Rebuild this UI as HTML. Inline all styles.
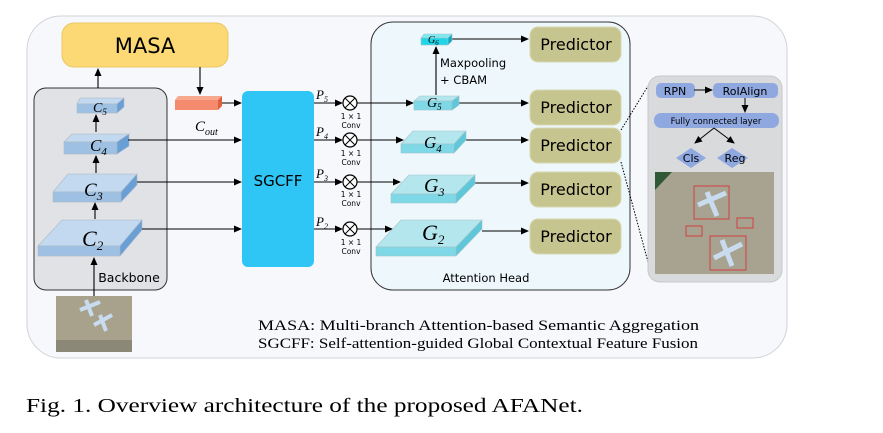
<!DOCTYPE html>
<html><head><meta charset="utf-8"><style>
html,body{margin:0;padding:0;background:#fff;width:883px;height:433px;overflow:hidden}
svg{display:block}
.s{font-family:"DejaVu Sans","Liberation Sans",sans-serif}
.r{font-family:"Liberation Serif",serif}
</style></head><body>
<svg width="883" height="433" viewBox="0 0 883 433" xmlns="http://www.w3.org/2000/svg">
<defs>
<marker id="a" markerWidth="8" markerHeight="8" refX="7" refY="4" orient="auto" markerUnits="userSpaceOnUse"><path d="M0,0.5 L8,4 L0,7.5z" fill="#000"/></marker>
</defs>
<rect x="27" y="16" width="760" height="342" rx="34" fill="#f6f8fc" stroke="#cfd3d8" stroke-width="1"/>
<rect x="62" y="23" width="166" height="44" rx="12" fill="#fcd975" stroke="#e8c860"/>
<text x="145" y="53" class="s" font-size="21" text-anchor="middle">MASA</text>
<rect x="34" y="88" width="133" height="202" rx="12" fill="#e1e2e5" stroke="#333" stroke-width="1"/>
<text x="129" y="282" class="s" font-size="12.5" text-anchor="middle">Backbone</text>
<g stroke="#aab8c8" stroke-width="0.6">
<polygon points="80,98 124,98 117,104 77,104" fill="#c3d9ef"/><rect x="77" y="104" width="40" height="9" fill="#9dc0e3"/><polygon points="117,104 124,98 124,107 117,113" fill="#6a9fd6"/>
<polygon points="72,134 129,134 117,142 64,142" fill="#c3d9ef"/><rect x="64" y="142" width="53" height="12" fill="#9dc0e3"/><polygon points="117,142 129,134 129,146 117,154" fill="#6a9fd6"/>
<polygon points="68,174 137,174 121,192 53,192" fill="#c3d9ef"/><rect x="53" y="192" width="68" height="10" fill="#9dc0e3"/><polygon points="121,192 137,174 137,185 121,202" fill="#6a9fd6"/>
<polygon points="62,220 142,220 120,246 38,246" fill="#c3d9ef"/><rect x="38" y="246" width="82" height="10" fill="#9dc0e3"/><polygon points="120,246 142,220 142,230 120,256" fill="#6a9fd6"/>
</g>
<g class="r" font-style="italic">
<text x="93" y="112" font-size="14">C<tspan font-size="9" dy="3">5</tspan></text>
<text x="90" y="151" font-size="17">C<tspan font-size="11" dy="4">4</tspan></text>
<text x="84" y="196" font-size="19">C<tspan font-size="12" dy="4">3</tspan></text>
<text x="82" y="246" font-size="22">C<tspan font-size="13" dy="4">2</tspan></text>
</g>
<g stroke="#000" stroke-width="1.1" fill="none" marker-end="url(#a)">
<line x1="98" y1="88" x2="98" y2="69"/>
<line x1="96" y1="132" x2="96" y2="115"/>
<line x1="96" y1="173" x2="96" y2="156"/>
<line x1="95" y1="219" x2="95" y2="203"/>
<line x1="94" y1="296" x2="94" y2="258"/>
<line x1="200" y1="67" x2="200" y2="94"/>
<line x1="222" y1="103" x2="241" y2="103"/>
<line x1="128" y1="140" x2="241" y2="140"/>
<line x1="137" y1="182" x2="241" y2="182"/>
<line x1="142" y1="229" x2="241" y2="229"/>
</g>
<rect x="56" y="296" width="76" height="56" fill="#a8a28c"/>
<rect x="56" y="340" width="76" height="12" fill="#8c8878"/>
<path d="M80,310 l20,-8 M86,300 l6,16 M94,325 l18,-10 M100,315 l6,16" stroke="#c9dcef" stroke-width="4"/>
<polygon points="178,96 222,96 218,100 175,100" fill="#f8a88e"/>
<rect x="175" y="100" width="43" height="10" fill="#f48a6e"/><polygon points="218,100 222,96 222,106 218,110" fill="#e0603e"/>
<text x="195" y="131" class="r" font-style="italic" font-size="15">C<tspan font-size="10" dy="4">out</tspan></text>
<rect x="242" y="91" width="72" height="176" rx="6" fill="#2fc6f5"/>
<text x="278" y="186" class="s" font-size="15" text-anchor="middle">SGCFF</text>
<rect x="371" y="22" width="259" height="268" rx="22" fill="#eef8fc" stroke="#333" stroke-width="1"/>
<text x="486" y="282" class="s" font-size="11.5" text-anchor="middle">Attention Head</text>
<g class="r" font-style="italic" font-size="13">
<text x="316" y="99">P<tspan font-size="8" dy="3">5</tspan></text>
<text x="316" y="136">P<tspan font-size="8" dy="3">4</tspan></text>
<text x="316" y="178">P<tspan font-size="8" dy="3">3</tspan></text>
<text x="316" y="226">P<tspan font-size="8" dy="3">2</tspan></text>
</g>
<g stroke="#000" stroke-width="1.1" fill="none">
<line x1="314" y1="103" x2="342" y2="103" marker-end="url(#a)"/>
<line x1="314" y1="140" x2="342" y2="140" marker-end="url(#a)"/>
<line x1="314" y1="182" x2="342" y2="182" marker-end="url(#a)"/>
<line x1="314" y1="229" x2="342" y2="229" marker-end="url(#a)"/>
<line x1="357" y1="103" x2="413" y2="103" marker-end="url(#a)"/>
<line x1="357" y1="140" x2="403" y2="140" marker-end="url(#a)"/>
<line x1="357" y1="182" x2="400" y2="182" marker-end="url(#a)"/>
<line x1="357" y1="229" x2="392" y2="229" marker-end="url(#a)"/>
<line x1="436" y1="95" x2="436" y2="47" marker-end="url(#a)"/>
<line x1="452" y1="39" x2="528" y2="39" marker-end="url(#a)"/>
<line x1="456" y1="103" x2="528" y2="103" marker-end="url(#a)"/>
<line x1="465" y1="140" x2="528" y2="140" marker-end="url(#a)"/>
<line x1="475" y1="183" x2="528" y2="183" marker-end="url(#a)"/>
<line x1="482" y1="231" x2="528" y2="231" marker-end="url(#a)"/>
</g>
<g stroke="#000" stroke-width="1.2" fill="#fff">
<circle cx="350" cy="103" r="7"/><circle cx="350" cy="140" r="7"/><circle cx="350" cy="182" r="7"/><circle cx="350" cy="229" r="7"/>
</g>
<g stroke="#000" stroke-width="1">
<path d="M345,98 l10,10 M355,98 l-10,10"/><path d="M345,135 l10,10 M355,135 l-10,10"/><path d="M345,177 l10,10 M355,177 l-10,10"/><path d="M345,224 l10,10 M355,224 l-10,10"/>
</g>
<g class="s" font-size="7.5" text-anchor="middle">
<text x="351" y="119">1 × 1</text><text x="351" y="128">Conv</text>
<text x="351" y="156">1 × 1</text><text x="351" y="165">Conv</text>
<text x="351" y="197">1 × 1</text><text x="351" y="206">Conv</text>
<text x="351" y="245">1 × 1</text><text x="351" y="254">Conv</text>
</g>
<text x="440" y="67" class="s" font-size="11.5">Maxpooling</text>
<text x="440" y="84" class="s" font-size="11.5">+ CBAM</text>
<g stroke="#9fc4cc" stroke-width="0.6">
<polygon points="424,34 452,34 448,38 421,38" fill="#7fe8f0"/><rect x="421" y="38" width="27" height="7" fill="#1ed6e8"/><polygon points="448,38 452,34 452,41 448,45" fill="#10a8c0"/>
<polygon points="420,96 459,96 452,101 414,101" fill="#b4e6ee"/><rect x="414" y="101" width="38" height="9" fill="#7fd8e6"/><polygon points="452,101 459,96 459,105 452,110" fill="#5ec7da"/>
<polygon points="413,131 466,131 454,144 401,144" fill="#b4e6ee"/><rect x="401" y="144" width="53" height="9" fill="#7fd8e6"/><polygon points="454,144 466,131 466,140 454,153" fill="#5ec7da"/>
<polygon points="409,175 475,175 456,194 391,194" fill="#b4e6ee"/><rect x="391" y="194" width="65" height="9" fill="#7fd8e6"/><polygon points="456,194 475,175 475,184 456,203" fill="#5ec7da"/>
<polygon points="401,220 482,220 456,247 376,247" fill="#b4e6ee"/><rect x="376" y="247" width="80" height="9" fill="#7fd8e6"/><polygon points="456,247 482,220 482,229 456,256" fill="#5ec7da"/>
</g>
<g class="r" font-style="italic">
<text x="428" y="43" font-size="10">G<tspan font-size="7" dy="2">6</tspan></text>
<text x="427" y="107" font-size="14">G<tspan font-size="9" dy="3">5</tspan></text>
<text x="424" y="148" font-size="17">G<tspan font-size="11" dy="4">4</tspan></text>
<text x="424" y="192" font-size="20">G<tspan font-size="12" dy="4">3</tspan></text>
<text x="422" y="240" font-size="22">G<tspan font-size="13" dy="4">2</tspan></text>
</g>
<g fill="#c6c590" stroke="#d8d8b0">
<rect x="530" y="27" width="91" height="35" rx="8"/>
<rect x="530" y="90" width="91" height="35" rx="8"/>
<rect x="530" y="128" width="91" height="35" rx="8"/>
<rect x="530" y="172" width="91" height="35" rx="8"/>
<rect x="530" y="219" width="91" height="35" rx="8"/>
</g>
<g class="s" font-size="16" text-anchor="middle">
<text x="576" y="50">Predictor</text>
<text x="576" y="113">Predictor</text>
<text x="576" y="151">Predictor</text>
<text x="576" y="195">Predictor</text>
<text x="576" y="242">Predictor</text>
</g>
<g stroke="#000" stroke-width="1" stroke-dasharray="1.5,1.5" fill="none">
<line x1="621" y1="130" x2="648" y2="86"/>
<line x1="621" y1="162" x2="648" y2="262"/>
</g>
<rect x="648" y="76" width="134" height="206" rx="12" fill="#d9dadc" stroke="#c8c8c8"/>
<g fill="#8fa8e0">
<rect x="656" y="83" width="39" height="15" rx="5"/>
<rect x="713" y="83" width="65" height="15" rx="5"/>
<rect x="654" y="113" width="125" height="15" rx="7"/>
<polygon points="676,158 691,148 706,158 691,168"/>
<polygon points="717,158 732,148 748,158 732,168"/>
</g>
<g class="s" text-anchor="middle">
<text x="675" y="95" font-size="11">RPN</text>
<text x="745" y="95" font-size="11">RoIAlign</text>
<text x="716" y="124" font-size="8.5">Fully connected layer</text>
<text x="691" y="162" font-size="11">Cls</text>
<text x="735" y="162" font-size="11">Reg</text>
</g>
<g stroke="#000" stroke-width="1" fill="none" marker-end="url(#a)">
<line x1="694" y1="90" x2="712" y2="90"/>
<line x1="745" y1="98" x2="745" y2="112"/>
<line x1="714" y1="128" x2="695" y2="143"/>
<line x1="714" y1="128" x2="734" y2="143"/>
</g>
<rect x="655" y="172" width="119" height="102" fill="#a8a391"/>
<polygon points="655,172 672,172 655,190" fill="#2f5a35"/>
<rect x="694" y="186" width="35" height="33" fill="none" stroke="#d04040"/>
<rect x="710" y="236" width="36" height="34" fill="none" stroke="#d04040"/>
<rect x="686" y="226" width="16" height="10" fill="none" stroke="#d04040"/>
<rect x="737" y="218" width="16" height="10" fill="none" stroke="#d04040"/>
<path d="M698,205 l28,-12 M707,192 l10,24 M714,258 l28,-14 M722,240 l10,26" stroke="#c9dcef" stroke-width="5"/>
<text x="258" y="330" class="r" font-size="15" textLength="441" lengthAdjust="spacingAndGlyphs">MASA: Multi-branch Attention-based Semantic Aggregation</text>
<text x="258" y="348" class="r" font-size="15" textLength="440" lengthAdjust="spacingAndGlyphs">SGCFF: Self-attention-guided Global Contextual Feature Fusion</text>
<text x="26" y="412" class="r" font-size="20" textLength="557" lengthAdjust="spacingAndGlyphs">Fig. 1.  Overview architecture of the proposed AFANet.</text>
</svg>
</body></html>
